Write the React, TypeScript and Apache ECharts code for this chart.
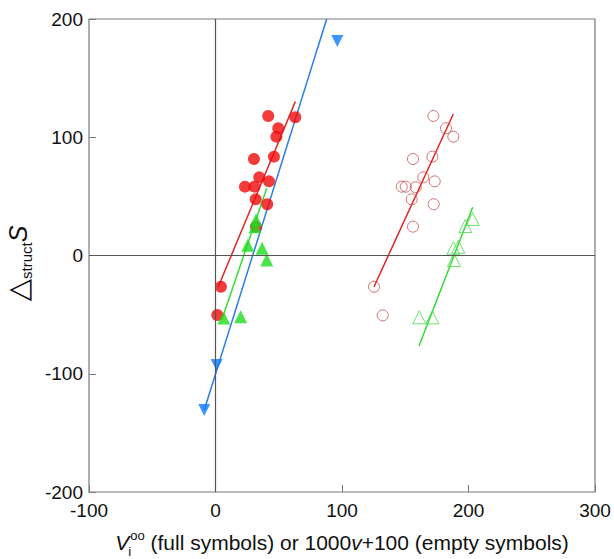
import React, { useEffect, useRef } from "react";
import * as echarts from "echarts";

// Data
const xTicks = [-100, 0, 100, 200, 300];
const yTicks = [-200, -100, 0, 100, 200];

// full red circles: V_i^oo vs ΔS
const redFullX = [41.7, 63.1, 49.6, 48.1, 30.4, 46.2, 34.6, 42.3, 23.3, 30.7, 31.8, 40.9, 32.0, 4.3, 1.4];
const redFullY = [118.0, 116.9, 107.6, 100.5, 81.6, 83.6, 66.1, 62.7, 58.2, 58.2, 47.5, 43.3, 24.4, -26.4, -50.3];
// empty red circles: 1000v+100 vs ΔS
const redEmptyX = [172.2, 182.2, 188.0, 156.1, 171.4, 164.3, 173.3, 147.2, 150.4, 158.3, 155.1, 172.5, 156.1, 125.3, 132.2];
const redEmptyY = [118.0, 107.6, 100.5, 81.6, 83.6, 66.1, 62.7, 58.2, 58.2, 57.7, 47.5, 43.3, 24.4, -26.4, -50.6];
// full green triangles
const greenFullX = [32.0, 31.2, 25.5, 36.8, 40.5, 6.5, 19.9];
const greenFullY = [30.0, 24.4, 8.6, 6.1, -3.8, -52.9, -51.8];
// empty green triangles
const greenEmptyX = [203.3, 197.5, 191.9, 188.0, 188.5, 161.1, 171.4];
const greenEmptyY = [30.9, 24.9, 7.4, 6.1, -3.8, -52.3, -52.3];
// blue down triangles
const blueX = [96.3, 0.9, -8.9];
const blueY = [181.4, -92.6, -130.7];

// fitted line end points [x0, y0, x1, y1]
const redFullFit = [2.2, -26.4, 63.1, 130.1];
const redEmptyFit = [125.3, -26.4, 188.0, 119.7];
const greenFullFit = [4.9, -54.5, 40.5, 56.8];
const greenEmptyFit = [160.9, -76.5, 203.3, 40.8];
const blueFit = [-8.9, -130.7, 87.9, 200.0];

const zip = (xs: number[], ys: number[]) => xs.map((x, i) => [x, ys[i]]);
const seg = (f: number[]) => [
  [f[0], f[1]],
  [f[2], f[3]],
];

const FONT = "Liberation Sans, Arial, sans-serif";

export default function App() {
  const ref = useRef<HTMLDivElement>(null);
  useEffect(() => {
    if (!ref.current) return;
    const chart = echarts.init(ref.current, undefined, { renderer: "svg" });
    const lineSeries = (data: number[][], color: string) => ({
      type: "line",
      data,
      symbol: "none",
      silent: true,
      lineStyle: { color, width: 1.5 },
      z: 2,
    });
    chart.setOption({
      animation: false,
      textStyle: { fontFamily: FONT },
      grid: {
        left: 89,
        right: 19,
        top: 19,
        bottom: 67,
        containLabel: false,
        outerBoundsMode: "none",
        show: true,
        borderColor: "#7a7a7a",
        borderWidth: 1.2,
        backgroundColor: "transparent",
      },
      xAxis: {
        type: "value",
        min: xTicks[0],
        max: xTicks[xTicks.length - 1],
        interval: 100,
        splitLine: { show: false },
        axisLine: { show: false, onZero: false },
        axisTick: { show: true, inside: true, length: 7, lineStyle: { color: "#7a7a7a" } },
        axisLabel: { fontSize: 19, color: "#111", margin: 9, fontFamily: FONT },
        name:
          "{v|V}{i|i}{oo|oo}{t| (full symbols) or 1000}{v|v}{t|+100 (empty symbols)}",
        nameLocation: "middle",
        nameGap: 37,
        nameTextStyle: {
          color: "#111",
          fontFamily: FONT,
          rich: {
            v: { fontSize: 21, fontStyle: "italic", lineHeight: 26, fontFamily: FONT, color: "#111" },
            i: { fontSize: 13, lineHeight: 13, verticalAlign: "bottom", width: 1, fontFamily: FONT, color: "#111", padding: [0, 0, -3, 0] },
            oo: { fontSize: 13, lineHeight: 13, verticalAlign: "top", fontFamily: FONT, color: "#111" },
            t: { fontSize: 21, lineHeight: 26, fontFamily: FONT, color: "#111" },
          },
        },
      },
      yAxis: {
        type: "value",
        min: yTicks[0],
        max: yTicks[yTicks.length - 1],
        interval: 100,
        splitLine: { show: false },
        axisLine: { show: false, onZero: false },
        axisTick: { show: true, inside: true, length: 7, lineStyle: { color: "#7a7a7a" } },
        axisLabel: { fontSize: 19, color: "#111", margin: 6, fontFamily: FONT },
        name: "{tri|△}{sub|struct}{s|S}",
        nameLocation: "middle",
        nameRotate: 90,
        nameGap: 45,
        nameTextStyle: {
          color: "#111",
          padding: [0, 16, 0, 0],
          rich: {
            tri: { fontSize: 29, lineHeight: 32, fontFamily: "DejaVu Sans", color: "#111" },
            sub: { fontSize: 15, lineHeight: 15, verticalAlign: "bottom", fontFamily: FONT, color: "#111" },
            s: { fontSize: 25, lineHeight: 32, fontStyle: "italic", fontFamily: FONT, color: "#111" },
          },
        },
      },
      series: [
        {
          type: "scatter",
          data: [],
          silent: true,
          markLine: {
            silent: true,
            symbol: "none",
            label: { show: false },
            lineStyle: { color: "#555", width: 1.2, type: "solid" },
            data: [{ xAxis: 0 }, { yAxis: 0 }],
          },
        },
        lineSeries(seg(redFullFit), "#e02424"),
        lineSeries(seg(redEmptyFit), "#e02424"),
        lineSeries(seg(greenFullFit), "#33dd33"),
        lineSeries(seg(greenEmptyFit), "#33dd33"),
        lineSeries(seg(blueFit), "#2a7fe6"),
        {
          type: "scatter",
          data: zip(redFullX, redFullY),
          symbol: "circle",
          symbolSize: 12,
          itemStyle: { color: "#f00a0a" },
          z: 3,
        },
        {
          type: "scatter",
          data: zip(redEmptyX, redEmptyY),
          symbol: "circle",
          symbolSize: 11,
          itemStyle: { color: "rgba(0,0,0,0)", borderColor: "#c85050", borderWidth: 1 },
          z: 3,
        },
        {
          type: "scatter",
          data: zip(greenFullX, greenFullY),
          symbol: "triangle",
          symbolSize: 13,
          itemStyle: { color: "#1edc1e" },
          z: 3,
        },
        {
          type: "scatter",
          data: zip(greenEmptyX, greenEmptyY),
          symbol: "triangle",
          symbolSize: 13,
          itemStyle: { color: "rgba(0,0,0,0)", borderColor: "#4cd84c", borderWidth: 1 },
          z: 3,
        },
        {
          type: "scatter",
          data: zip(blueX, blueY),
          symbol: "triangle",
          symbolRotate: 180,
          symbolSize: 12,
          itemStyle: { color: "#0a7cff" },
          z: 3,
        },
      ],
    });
    return () => chart.dispose();
  }, []);
  return (
    <div
      ref={ref}
      style={{ position: "absolute", left: 0, top: 0, width: 614, height: 559, background: "#fff" }}
    />
  );
}
